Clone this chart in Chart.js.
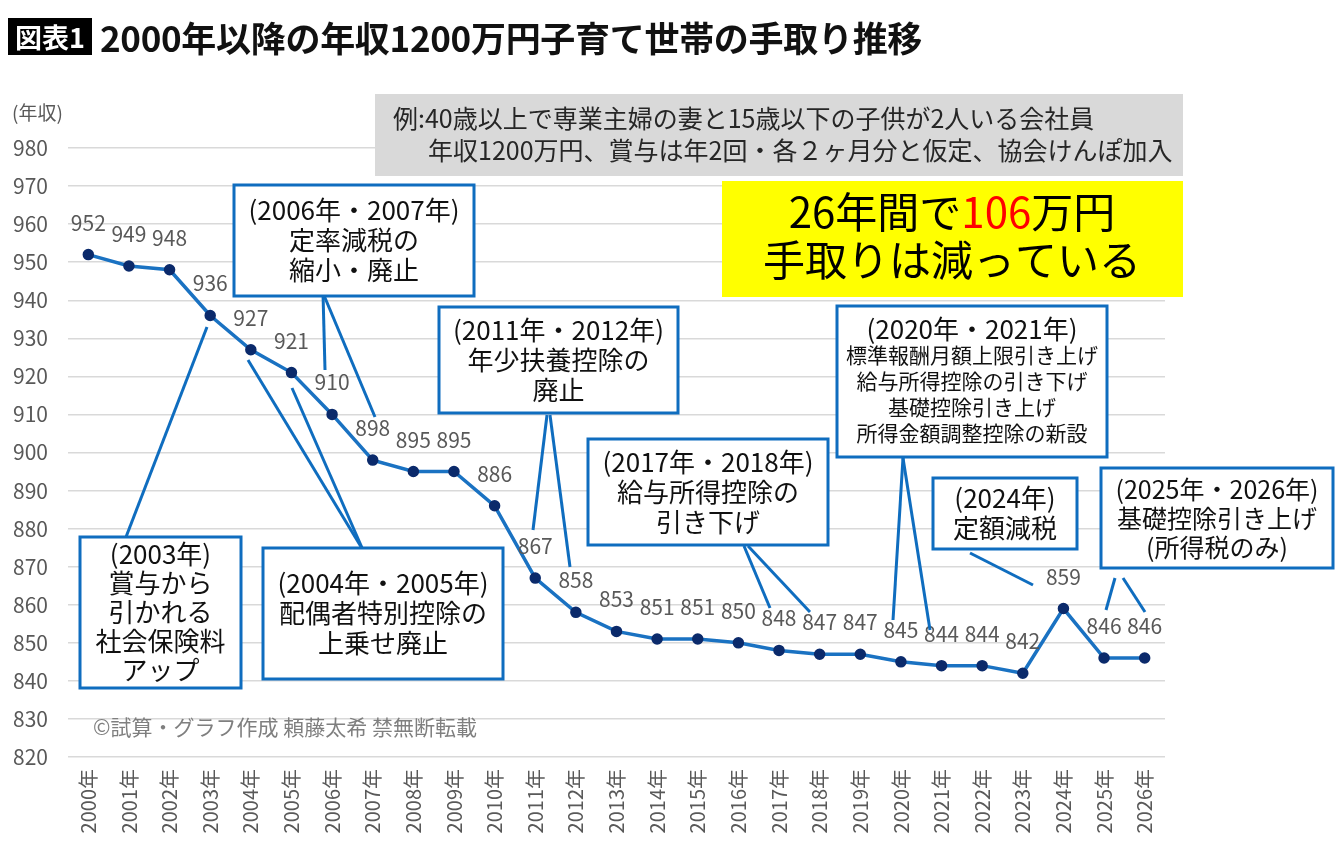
<!DOCTYPE html>
<html lang="ja">
<head>
<meta charset="utf-8">
<script src="https://cdn.jsdelivr.net/npm/chart.js@4/dist/chart.umd.min.js"></script>
<style>
  body { margin: 0; background: #fff; font-family: "Noto Sans CJK JP", sans-serif; }
  #wrap { position: relative; width: 1340px; height: 850px; }
  #wrap canvas { position: absolute; left: 0; top: 0; }
  .title { position: absolute; left: 8px; top: 11px; display: flex; align-items: center; white-space: nowrap; }
  .tag { background: #000; color: #fff; font-weight: bold; font-size: 27px; padding: 0 7px; height: 37px; line-height: 37px; }
  .main { font-weight: bold; font-size: 35px; margin-left: 8px; color: #111; letter-spacing: -0.3px; }
</style>
</head>
<body>
<div id="wrap">
  <canvas id="myChart" width="1340" height="850"></canvas>
  <div class="title"><span class="tag">図表1</span><span class="main">2000年以降の年収1200万円子育て世帯の手取り推移</span></div>
</div>
<script>
const years = [
  "2000年", "2001年", "2002年", "2003年", "2004年", "2005年", "2006年",
  "2007年", "2008年", "2009年", "2010年", "2011年", "2012年", "2013年",
  "2014年", "2015年", "2016年", "2017年", "2018年", "2019年", "2020年",
  "2021年", "2022年", "2023年", "2024年", "2025年", "2026年",
];
const takeHome = [
  952, 949, 948, 936, 927, 921, 910, 898, 895, 895, 886, 867, 858, 853,
  851, 851, 850, 848, 847, 847, 845, 844, 844, 842, 859, 846, 846,
];
const yMin = 820;
const yMax = 980;
const yStep = 10;

const FONT = '"Noto Sans CJK JP", sans-serif';
const BLUE = "#0f6dbf";

// callout boxes (pixel layout of the annotations)
const boxes = [
  { x: 80, y: 537, w: 161, h: 151, lines: ["(2003年)", "賞与から", "引かれる", "社会保険料", "アップ"], size: 26, gap: 29 },
  { x: 234, y: 185, w: 240, h: 111, lines: ["(2006年・2007年)", "定率減税の", "縮小・廃止"], size: 26, gap: 30 },
  { x: 263, y: 548, w: 240, h: 131, lines: ["(2004年・2005年)", "配偶者特別控除の", "上乗せ廃止"], size: 26, gap: 30 },
  { x: 439, y: 307, w: 239, h: 106, lines: ["(2011年・2012年)", "年少扶養控除の", "廃止"], size: 26, gap: 30 },
  { x: 588, y: 439, w: 240, h: 106, lines: ["(2017年・2018年)", "給与所得控除の", "引き下げ"], size: 26, gap: 30 },
  { x: 837, y: 306, w: 270, h: 151, lines: ["(2020年・2021年)", "標準報酬月額上限引き上げ", "給与所得控除の引き下げ", "基礎控除引き上げ", "所得金額調整控除の新設"], size: 26, small: 21, gap: 26 },
  { x: 933, y: 478, w: 144, h: 71, lines: ["(2024年)", "定額減税"], size: 26, gap: 30 },
  { x: 1101, y: 468, w: 232, h: 100, lines: ["(2025年・2026年)", "基礎控除引き上げ", "(所得税のみ)"], size: 25, gap: 29 },
];
const callouts = [
  [126, 537, 207, 327],
  [323, 293, 325, 370], [323, 293, 375, 417],
  [363, 550, 248, 360], [363, 550, 292, 388],
  [547, 415, 533, 530], [550, 415, 570, 567],
  [744, 546, 770, 608], [748, 546, 810, 612],
  [903, 458, 893, 620], [903, 458, 930, 630],
  [970, 553, 1033, 585],
  [1115, 578, 1106, 610], [1123, 578, 1145, 612],
];

const valueLabels = {
  id: "valueLabels",
  afterDatasetsDraw(chart) {
    const { ctx } = chart;
    const meta = chart.getDatasetMeta(0);
    ctx.save();
    ctx.fillStyle = "#595959";
    ctx.font = "21px " + FONT;
    ctx.textAlign = "center";
    ctx.textBaseline = "middle";
    meta.data.forEach((pt, i) => {
      ctx.fillText(takeHome[i], pt.x, pt.y - 32);
    });
    ctx.restore();
  },
};

const notes = {
  id: "notes",
  afterDraw(chart) {
    const { ctx } = chart;
    ctx.save();
    // axis caption + watermark
    ctx.fillStyle = "#595959";
    ctx.font = "19px " + FONT;
    ctx.textBaseline = "middle";
    ctx.fillText("(年収)", 12, 113);
    ctx.fillStyle = "#7f7f7f";
    ctx.font = "21px " + FONT;
    ctx.fillText("©試算・グラフ作成 頼藤太希 禁無断転載", 93, 727);

    // grey condition box
    ctx.fillStyle = "#d9d9d9";
    ctx.fillRect(375, 94, 808, 82);
    ctx.fillStyle = "#262626";
    ctx.font = "25px " + FONT;
    ctx.fillText("例:40歳以上で専業主婦の妻と15歳以下の子供が2人いる会社員", 393, 118);
    ctx.fillText("年収1200万円、賞与は年2回・各２ヶ月分と仮定、協会けんぽ加入", 428, 150);

    // yellow box
    ctx.fillStyle = "#ffff00";
    ctx.fillRect(722, 181, 461, 116);
    ctx.font = "42px " + FONT;
    ctx.textAlign = "left";
    const p1 = "26年間で", p2 = "106", p3 = "万円";
    const w = ctx.measureText(p1 + p2 + p3).width;
    let x = 952 - w / 2;
    ctx.fillStyle = "#000";
    ctx.fillText(p1, x, 212);
    x += ctx.measureText(p1).width;
    ctx.fillStyle = "#ff0000";
    ctx.fillText(p2, x, 212);
    x += ctx.measureText(p2).width;
    ctx.fillStyle = "#000";
    ctx.fillText(p3, x, 212);
    ctx.textAlign = "center";
    ctx.fillText("手取りは減っている", 952, 260);

    // callout lines
    ctx.strokeStyle = BLUE;
    ctx.lineWidth = 3;
    callouts.forEach(([x1, y1, x2, y2]) => {
      ctx.beginPath();
      ctx.moveTo(x1, y1);
      ctx.lineTo(x2, y2);
      ctx.stroke();
    });

    // callout boxes
    boxes.forEach((b) => {
      ctx.fillStyle = "#fff";
      ctx.fillRect(b.x, b.y, b.w, b.h);
      ctx.strokeRect(b.x, b.y, b.w, b.h);
      ctx.fillStyle = "#111";
      ctx.textAlign = "center";
      const n = b.lines.length;
      const top = b.y + b.h / 2 - ((n - 1) * b.gap) / 2;
      b.lines.forEach((t, i) => {
        const size = i > 0 && b.small ? b.small : b.size;
        ctx.font = size + "px " + FONT;
        ctx.fillText(t, b.x + b.w / 2, top + i * b.gap);
      });
    });
    ctx.restore();
  },
};

const ctx = document.getElementById("myChart");
new Chart(ctx, {
  type: "line",
  data: {
    labels: years,
    datasets: [
      {
        label: "手取り",
        data: takeHome,
        borderColor: "#1a72c2",
        borderWidth: 3.5,
        pointRadius: 4,
        pointBackgroundColor: "#0b2a6b",
        pointBorderColor: "#0b2a6b",
        tension: 0,
      },
    ],
  },
  options: {
    responsive: false,
    animation: false,
    layout: {
      padding: { left: 0, right: 175, top: 148, bottom: 0 },
    },
    plugins: {
      legend: { display: false },
      tooltip: { enabled: false },
    },
    scales: {
      x: {
        offset: true,
        grid: { display: false, drawTicks: false },
        border: { display: false },
        ticks: {
          minRotation: 90,
          maxRotation: 90,
          padding: 12,
          color: "#595959",
          font: { family: FONT, size: 20 },
        },
        afterFit: (scale) => {
          scale.height = 93;
        },
      },
      y: {
        min: yMin,
        max: yMax,
        ticks: {
          stepSize: yStep,
          padding: 20,
          color: "#595959",
          font: { family: FONT, size: 21 },
        },
        grid: { color: "#d9d9d9", lineWidth: 1.5, drawTicks: false },
        border: { display: false },
        afterFit: (scale) => {
          scale.width = 68;
        },
      },
    },
  },
  plugins: [valueLabels, notes],
});
</script>
</body>
</html>
